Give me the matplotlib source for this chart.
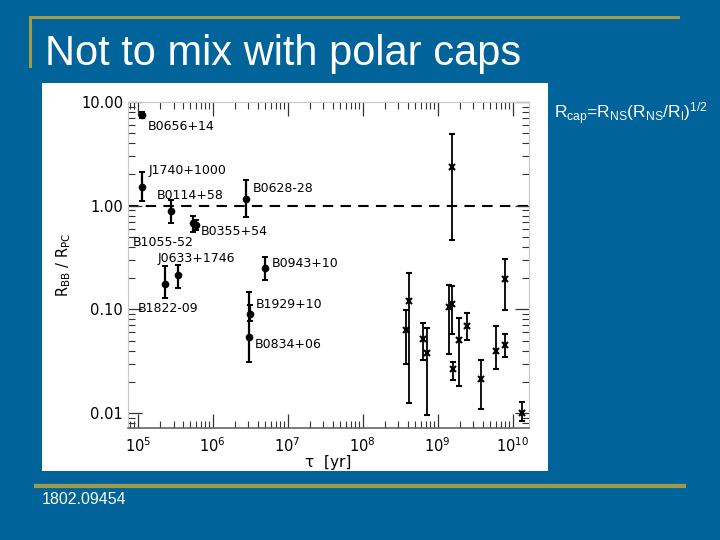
import matplotlib
matplotlib.use("Agg")
import matplotlib.pyplot as plt
from matplotlib.patches import Rectangle
from matplotlib.lines import Line2D
from matplotlib.ticker import LogLocator, FormatStrFormatter, NullFormatter
import numpy as np

# ---- data: labelled pulsars (dots) ----
names = ["B0656+14", "J1740+1000", "B0114+58", "B0355+54", "B1055-52", "B0628-28",
         "B1822-09", "J0633+1746", "B0943+10", "B1929+10", "B0834+06"]
tau_dot = [1.13e5, 1.15e5, 2.82e5, 5.5e5, 5.9e5, 2.82e6,
           2.34e5, 3.47e5, 5.0e6, 3.16e6, 3.02e6]
r_dot = [7.45, 1.50, 0.88, 0.675, 0.655, 1.15,
         0.177, 0.216, 0.252, 0.091, 0.054]
lo_dot = [6.96, 1.11, 0.68, 0.555, 0.58, 0.77,
          0.128, 0.160, 0.194, 0.078, 0.031]
hi_dot = [7.98, 2.13, 1.14, 0.80, 0.72, 1.77,
          0.261, 0.269, 0.318, 0.109, 0.147]

# ---- data: old pulsars (crosses) ----
tau_x = [1.58e9, 3.74e8, 4.17e8, 6.46e8, 7.29e8, 1.42e9, 1.58e9, 1.62e9,
         1.91e9, 2.49e9, 3.83e9, 6.07e9, 7.82e9, 7.82e9, 1.35e10]
r_x = [2.37, 0.0637, 0.120, 0.0523, 0.038, 0.105, 0.112, 0.0265,
       0.0512, 0.0687, 0.0215, 0.0394, 0.0457, 0.197, 0.00993]
lo_x = [0.468, 0.0296, 0.0124, 0.0328, 0.00955, 0.0369, 0.0583, 0.0207,
        0.0182, 0.0504, 0.0109, 0.0269, 0.0348, 0.0977, 0.00832]
hi_x = [4.89, 0.0977, 0.223, 0.0741, 0.0667, 0.170, 0.167, 0.0311,
        0.0824, 0.0929, 0.0324, 0.0697, 0.0575, 0.307, 0.0129]

# label anchor positions (log10 tau, log10 ratio), left edge / vertical centre
label_pos = {
    "B0656+14": (5.129, 0.760), "J1740+1000": (5.151, 0.337), "B0114+58": (5.253, 0.103),
    "B0628-28": (6.537, 0.170), "B0355+54": (5.84, -0.247), "B1055-52": (4.935, -0.353),
    "J0633+1746": (5.271, -0.513), "B1822-09": (5.004, -0.988), "B0943+10": (6.787, -0.561),
    "B1929+10": (6.573, -0.955), "B0834+06": (6.564, -1.337),
}

BLUE = "#00649a"
GOLD = "#a09a4c"

plt.rcParams["mathtext.fontset"] = "custom"
plt.rcParams["mathtext.rm"] = "Liberation Sans"
plt.rcParams["mathtext.it"] = "Liberation Sans:italic"

fig = plt.figure(figsize=(7.2, 5.4), dpi=100, facecolor=BLUE)

# slide decorations
fig.add_artist(Line2D([30/720, 678/720], [1-17/540, 1-17/540], color=GOLD, lw=2.2,
                      transform=fig.transFigure))
fig.add_artist(Line2D([30/720, 30/720], [1-17/540, 1-66/540], color=GOLD, lw=2.2,
                      transform=fig.transFigure))
fig.add_artist(Line2D([36/720, 684/720], [1-486/540, 1-486/540], color=GOLD, lw=3,
                      transform=fig.transFigure))
fig.add_artist(Rectangle((42/720, 1-471/540), (548-42)/720, (471-83)/540,
                         facecolor="white", edgecolor="none", transform=fig.transFigure,
                         zorder=0))

fig.text(45/720, 1-65/540, "Not to mix with polar caps", color="white",
         fontsize=30, family="Liberation Sans", va="baseline", ha="left")
fig.text(554/720, 1-114/540,
         r"R$_{\rm cap}$=R$_{\rm NS}$(R$_{\rm NS}$/R$_{\rm l}$)$^{\rm 1/2}$",
         color="white", fontsize=12.5, family="Liberation Sans", va="center", ha="left",
         math_fontfamily="custom")
fig.text(42/720, 1-500/540, "1802.09454", color="white", fontsize=11.5,
         family="Liberation Sans", va="center", ha="left")

# ---- chart axes ----
ax = fig.add_axes([128/720, 1-428/540, 401/720, 326/540])
ax.set_facecolor("white")
ax.set_xscale("log")
ax.set_yscale("log")
ax.set_xlim(10**4.87, 10**10.22)
ax.set_ylim(10**-2.144, 10**1.0)

ax.axhline(1.0, color="black", lw=1.5, ls=(0, (5, 3.5)), zorder=1)

tau_dot = np.array(tau_dot); r_dot = np.array(r_dot)
yerr_dot = [r_dot - np.array(lo_dot), np.array(hi_dot) - r_dot]
ax.errorbar(tau_dot, r_dot, yerr=yerr_dot, fmt="o", color="black", ms=4.5,
            elinewidth=1.6, capsize=2.5, capthick=1.4, zorder=3)

tau_x = np.array(tau_x); r_x = np.array(r_x)
yerr_x = [r_x - np.array(lo_x), np.array(hi_x) - r_x]
ax.errorbar(tau_x, r_x, yerr=yerr_x, fmt="x", color="black", ms=5, mew=1.5,
            elinewidth=1.3, capsize=2.5, capthick=1.3, zorder=3)

for n in names:
    lx, ly = label_pos[n]
    ax.text(10**lx, 10**ly, n, fontsize=9, ha="left", va="center", color="black",
            family="DejaVu Sans", zorder=4)

# ticks
ax.xaxis.set_major_locator(LogLocator(base=10, numticks=20))
ax.xaxis.set_minor_locator(LogLocator(base=10, subs=np.arange(2, 10), numticks=20))
ax.xaxis.set_minor_formatter(NullFormatter())
ax.yaxis.set_major_locator(LogLocator(base=10, numticks=20))
ax.yaxis.set_minor_locator(LogLocator(base=10, subs=np.arange(2, 10), numticks=20))
ax.yaxis.set_major_formatter(FormatStrFormatter("%.2f"))
ax.yaxis.set_minor_formatter(NullFormatter())
ax.tick_params(which="both", direction="in", top=True, right=True, colors="#333333",
               labelcolor="black", labelsize=10.5)
ax.tick_params(which="major", length=10, width=0.9)
ax.tick_params(which="minor", length=5, width=0.8)
ax.tick_params(axis="x", pad=6)

for s in ["top", "left", "right"]:
    ax.spines[s].set_color("#c8c8c8")
    ax.spines[s].set_linewidth(0.8)
ax.spines["bottom"].set_color("#666666")
ax.spines["bottom"].set_linewidth(1.2)

ax.set_xlabel("\u03c4  [yr]", fontsize=11, labelpad=0, family="DejaVu Sans")
ax.set_ylabel(r"R$_{\rm BB}$ / R$_{\rm PC}$", fontsize=10.5, labelpad=6,
              family="DejaVu Sans", math_fontfamily="dejavusans")

fig.canvas.draw()
for lab in ax.get_xticklabels():
    lab.set_math_fontfamily("dejavusans")

fig.savefig("out.png", dpi=100, facecolor=BLUE)
